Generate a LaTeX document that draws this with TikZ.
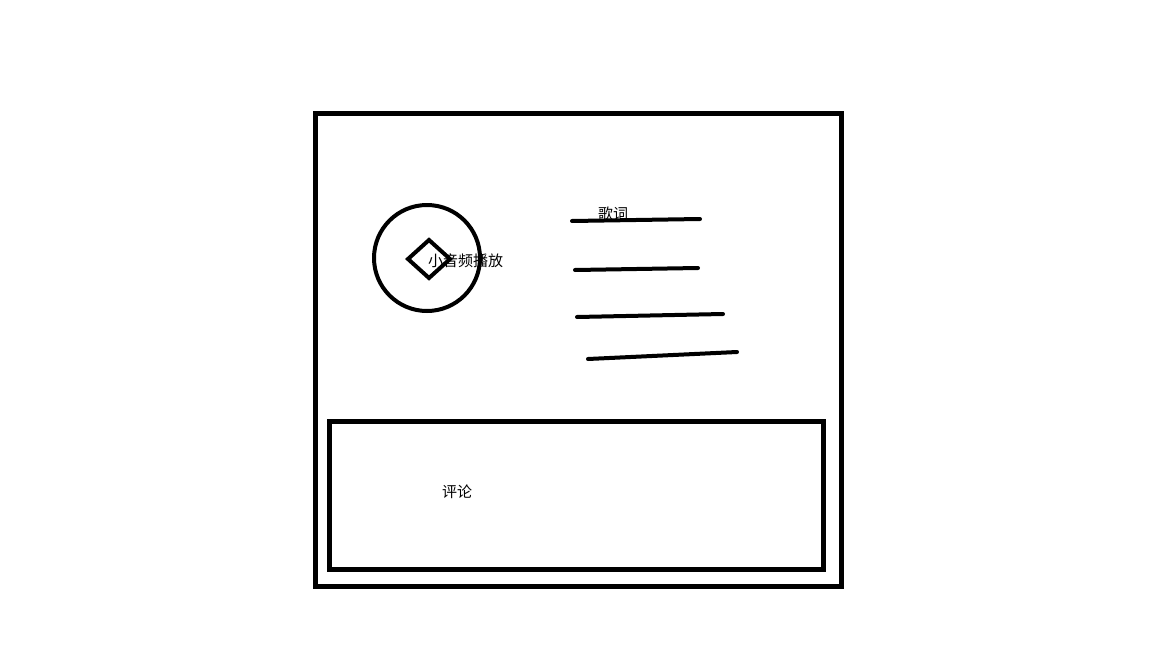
\documentclass[tikz,border=0pt]{standalone}
\usepackage{fontspec}
\newfontfamily\cjk{Noto Sans CJK SC}
\begin{document}
\begin{tikzpicture}[x=1pt,y=-1pt,
  frame/.style={draw=black,line width=5pt},
  stroke/.style={draw=black,line width=4pt,line cap=round},
  lbl/.style={font=\cjk\fontsize{15}{18}\selectfont,inner sep=0pt}]
\useasboundingbox[fill=white] (0,0) rectangle (1152,648);
\node[frame,minimum width=526pt,minimum height=473pt,inner sep=0pt] (outer) at (578,349.5) {};
\node[frame,minimum width=494pt,minimum height=148pt,inner sep=0pt] (inner) at (576,495) {};
\node[draw=black,line width=4pt,circle,minimum size=106pt,inner sep=0pt] (disc) at (427,258) {};
\coordinate (dl) at (408,259);
\coordinate (dt) at (429,240);
\coordinate (dr) at (450,259);
\coordinate (db) at (429,278);
\draw[line width=4pt,line join=miter] (dl) -- (dt) -- (dr) -- (db) -- cycle;
\node[lbl,anchor=west] (play) at (428,261) {小音频播放};
\node[lbl] (lyrics) at (613,214) {歌词};
\node[lbl] (comment) at (457,492) {评论};
\coordinate (a1) at (572,221); \coordinate (b1) at (700,219);
\coordinate (a2) at (575,270); \coordinate (b2) at (698,268);
\coordinate (a3) at (577,317); \coordinate (b3) at (723,314);
\coordinate (a4) at (588,359); \coordinate (b4) at (737,352);
\draw[stroke] (a1) -- (b1);
\draw[stroke] (a2) -- (b2);
\draw[stroke] (a3) -- (b3);
\draw[stroke] (a4) -- (b4);
\end{tikzpicture}
\end{document}
